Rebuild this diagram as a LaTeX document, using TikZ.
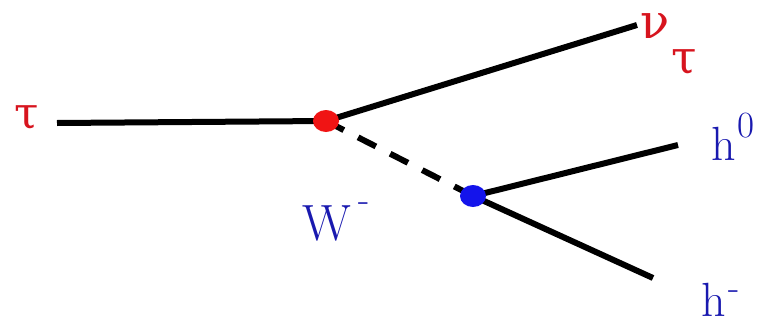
\documentclass[tikz,border=0pt]{standalone}
\usepackage{fontspec}
\newfontfamily\grk{DejaVu Serif}
\definecolor{lblred}{RGB}{215,20,30}
\definecolor{lblblue}{RGB}{25,25,175}
\definecolor{dotred}{RGB}{240,20,20}
\definecolor{dotblue}{RGB}{20,20,235}
\begin{document}
\begin{tikzpicture}[x=1pt,y=-1pt,
  line/.style={line width=6pt},
  dashline/.style={line width=6pt,dash pattern=on 20pt off 16pt},
  lbl/.style={inner sep=0pt,anchor=base west,font=\fontsize{48}{48}\selectfont},
  glbl/.style={inner sep=0pt,anchor=base west,font=\fontsize{44}{44}\selectfont\grk},
  sup/.style={inner sep=0pt,anchor=base west,font=\fontsize{37}{37}\selectfont},
  vtx/.style={circle,inner sep=0pt,minimum size=24pt}]
\useasboundingbox (0,0) rectangle (762,324);
% vertices
\coordinate (start) at (57,123);
\coordinate (nuend) at (637,25);
\coordinate (h0end) at (678,145);
\coordinate (hmend) at (653,278);
\node[vtx] (v1) at (326,121) {};
\node[vtx] (v2) at (473,196) {};
% lines
\draw[line] (start) -- (v1.center);
\draw[line] (v1.center) -- (nuend);
\draw[dashline] (v1.center) -- (v2.center);
\draw[line] (v2.center) -- (h0end);
\draw[line] (v2.center) -- (hmend);
\fill[dotred] (v1.center) ellipse (13pt and 11pt);
\fill[dotblue] (v2.center) ellipse (13pt and 11pt);
% labels
\node[glbl,text=lblred] (tau) at (14,128) {τ};
\node[glbl,text=lblred,font=\fontsize{48}{48}\selectfont\grk] (nu) at (640,38) {ν};
\node[glbl,text=lblred,font=\fontsize{46}{46}\selectfont\grk] (nusub) at (671,73) {τ};
\node[lbl,text=lblblue,font=\fontsize{51}{51}\selectfont] (W) at (302,240) {W};
\node[sup,text=lblblue] (Wm) at (358,211) {-};
\node[lbl,text=lblblue] (h0) at (711,160) {h};
\node[sup,text=lblblue] (h0s) at (737,137) {0};
\node[lbl,text=lblblue] (hm) at (701,316) {h};
\node[sup,text=lblblue] (hms) at (728,299) {-};
\end{tikzpicture}
\end{document}
